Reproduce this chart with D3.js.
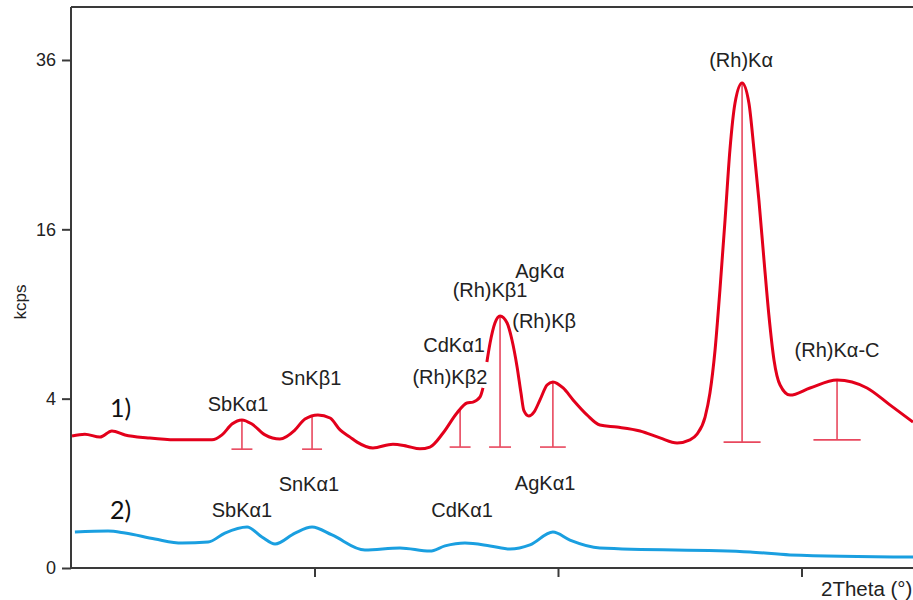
<!DOCTYPE html>
<html>
<head>
<meta charset="utf-8">
<script src="https://cdn.jsdelivr.net/npm/d3@7"></script>
<style>
  body { margin: 0; background: #fff; }
  svg { display: block; }
</style>
</head>
<body>
<svg id="chart" width="913" height="600"></svg>
<script>
// spectrum 1) - red, the gap at ~17 deg is a null
const theta1 = [0.04, 0.57, 1.19, 1.68, 2.22, 3.16, 4.27, 5.79, 6.20, 6.61, 7.02, 7.43, 7.97, 8.58, 9.20, 9.61, 10.14, 10.64, 11.05, 11.46, 11.75, 12.40, 13.22, 13.80, 14.33, 14.74, 15.28, 15.85, 16.26, 16.51, 16.80, 16.92,
  17.0,
  17.08, 17.21, 17.41, 17.62, 17.91, 18.11, 18.32, 18.48, 18.60, 18.80, 19.02, 19.26, 19.55, 19.79, 20.21, 20.62, 21.19, 21.72, 22.42, 23.37, 24.19, 24.89, 25.42, 25.71,
  26.04, 26.24, 26.45, 26.65, 26.86, 27.06, 27.27, 27.56, 27.84, 28.05, 28.25, 28.46, 28.66, 28.87, 29.12, 29.53, 30.35, 31.46, 32.69, 33.63, 34.58];
const kcps1 = [2.43, 2.50, 2.39, 2.62, 2.47, 2.36, 2.29, 2.29, 2.47, 2.89, 3.06, 2.89, 2.47, 2.32, 2.66, 3.10, 3.27, 3.14, 2.66, 2.39, 2.21, 2.01, 2.14, 2.07, 1.98, 2.04, 2.54, 3.35, 3.80, 3.84, 4.08, 4.52,
  null,
  5.92, 7.06, 8.37, 8.86, 8.37, 7.25, 5.64, 4.27, 3.45, 3.22, 3.40, 3.94, 4.67, 4.83, 4.52, 3.94, 3.27, 2.85, 2.77, 2.62, 2.36, 2.18, 2.29, 2.50,
  3.18, 4.27, 6.63, 10.78, 16.89, 24.37, 30.16, 32.81, 30.16, 24.37, 18.89, 13.23, 8.93, 6.04, 4.67, 4.17, 4.52, 4.93, 4.52, 3.71, 2.97];

// spectrum 2) - blue
const theta2 = [0.16, 1.52, 2.22, 3.45, 4.56, 5.63, 6.32, 7.23, 7.84, 8.38, 9.20, 9.90, 10.72, 12.07, 13.51, 14.74, 15.36, 16.18, 17.21, 18.03, 18.85, 19.79, 20.49, 21.72, 27.89, 29.53, 34.58];
const kcps2 = [0.18, 0.19, 0.17, 0.117, 0.087, 0.094, 0.17, 0.234, 0.134, 0.080, 0.17, 0.234, 0.152, 0.045, 0.056, 0.040, 0.068, 0.087, 0.068, 0.050, 0.074, 0.18, 0.109, 0.056, 0.036, 0.024, 0.017];

// line markers under spectrum 1)
const peakTheta = [7.02, 9.90, 15.98, 17.62, 19.79, 27.56, 31.46];
const peakTop = [3.06, 3.18, 3.48, 8.79, 4.83, 32.81, 4.93];
const peakBase = [1.97, 1.97, 2.04, 2.04, 2.04, 2.21, 2.29];
const peakHalfWidth = [0.43, 0.41, 0.43, 0.45, 0.53, 0.76, 0.97];

// peak labels: text, theta, kcps (centre / baseline)
const labelText = ['SbK\u03b11', 'SnK\u03b21', 'CdK\u03b11', '(Rh)K\u03b22', '(Rh)K\u03b21', 'AgK\u03b1', '(Rh)K\u03b2', '(Rh)K\u03b1', '(Rh)K\u03b1-C',
  'SbK\u03b11', 'SnK\u03b11', 'CdK\u03b11', 'AgK\u03b11'];
const labelTheta = [6.86, 9.86, 15.73, 15.56, 17.21, 19.26, 19.43, 27.52, 31.46, 7.02, 9.77, 16.06, 19.47];
const labelKcps = [3.44, 4.67, 6.51, 4.72, 10.24, 11.73, 8.03, 35.01, 6.21, 0.363, 0.827, 0.363, 0.849];

const seriesNames = ['1)', '2)'];
const seriesNameTheta = [1.6, 1.6];
const seriesNameKcps = [3.18, 0.335];

const yTicks = [0, 4, 16, 36];
const xTicks = [10, 20, 30];

const svg = d3.select('#chart'),
  plotLeft = 71,
  plotTop = 7,
  plotBottom = 568,
  x = d3.scaleLinear().domain([0, 36]).range([plotLeft, plotLeft + 36 * 24.35]),
  y = d3.scaleSqrt().domain([0, 43.9]).range([plotBottom, plotTop]),
  red = '#e3001b',
  stickRed = '#e8485e',
  blue = '#1a9fe0',
  axisColor = '#3a3a3a',
  font = 'Liberation Sans, Arial, sans-serif';

const line = d3.line()
  .defined(d => d[1] !== null)
  .x(d => x(d[0]))
  .y(d => y(d[1]))
  .curve(d3.curveMonotoneX);

const spec1 = theta1.map((t, i) => [t, kcps1[i]]),
  spec2 = theta2.map((t, i) => [t, kcps2[i]]);

// frame: top line + axes
svg.append('line')
  .attr('x1', plotLeft).attr('x2', 913)
  .attr('y1', plotTop).attr('y2', plotTop)
  .attr('stroke', axisColor).attr('stroke-width', 2);

const yAxis = svg.append('g')
  .attr('transform', `translate(${plotLeft},0)`)
  .call(d3.axisLeft(y).tickValues(yTicks).tickSize(9).tickPadding(6));
yAxis.select('.domain').attr('d', `M0,${plotTop}V${plotBottom}`);

const xAxis = svg.append('g')
  .attr('transform', `translate(0,${plotBottom})`)
  .call(d3.axisBottom(x).tickValues(xTicks).tickSize(9).tickFormat(''));
xAxis.select('.domain').attr('d', `M${plotLeft},0H913`);

svg.selectAll('.domain, .tick line')
  .attr('stroke', axisColor)
  .attr('stroke-width', 2);
yAxis.selectAll('text')
  .style('font-family', font)
  .style('font-size', '18px')
  .attr('fill', '#222');

svg.append('text')
  .attr('transform', `translate(26,${(y(16) + y(4)) / 2 - 12}) rotate(-90)`)
  .attr('text-anchor', 'middle')
  .style('font-family', font)
  .style('font-size', '17px')
  .attr('fill', '#222')
  .text('kcps');

svg.append('text')
  .attr('x', 821)
  .attr('y', 596)
  .style('font-family', font)
  .style('font-size', '20.5px')
  .attr('fill', '#222')
  .text('2Theta (\u00b0)');

// marker sticks
const sticks = svg.append('g')
  .attr('stroke', stickRed)
  .attr('stroke-width', 1.6);
peakTheta.forEach((t, i) => {
  sticks.append('line')
    .attr('x1', x(t)).attr('x2', x(t))
    .attr('y1', y(peakTop[i])).attr('y2', y(peakBase[i]));
  sticks.append('line')
    .attr('x1', x(t - peakHalfWidth[i])).attr('x2', x(t + peakHalfWidth[i]))
    .attr('y1', y(peakBase[i])).attr('y2', y(peakBase[i]));
});

// spectra
svg.append('path')
  .datum(spec2)
  .attr('d', line)
  .attr('fill', 'none')
  .attr('stroke', blue)
  .attr('stroke-width', 3);

svg.append('path')
  .datum(spec1)
  .attr('d', line)
  .attr('fill', 'none')
  .attr('stroke', red)
  .attr('stroke-width', 3);

// labels
svg.append('g')
  .selectAll('text')
  .data(labelText)
  .join('text')
  .attr('x', (d, i) => x(labelTheta[i]))
  .attr('y', (d, i) => y(labelKcps[i]))
  .attr('text-anchor', 'middle')
  .style('font-family', font)
  .style('font-size', '20px')
  .attr('fill', '#222')
  .text(d => d);

svg.append('g')
  .selectAll('text')
  .data(seriesNames)
  .join('text')
  .attr('x', (d, i) => x(seriesNameTheta[i]))
  .attr('y', (d, i) => y(seriesNameKcps[i]))
  .style('font-family', 'Lato, Open Sans, sans-serif')
  .style('font-size', '25px')
  .attr('fill', '#111')
  .text(d => d);
</script>
</body>
</html>
